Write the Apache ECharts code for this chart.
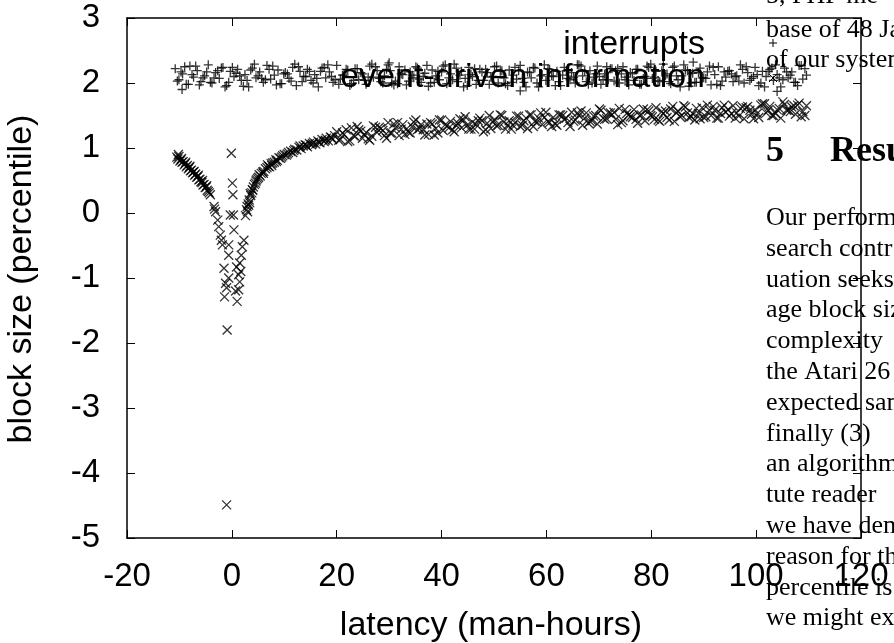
<!DOCTYPE html>
<html>
<head>
<meta charset="utf-8">
<script src="https://cdn.jsdelivr.net/npm/echarts@6.0.0/dist/echarts.min.js"></script>
<style>
  html, body { margin: 0; padding: 0; background: #fff; }
  #chart { width: 894px; height: 643px; }
</style>
</head>
<body>
<div id="chart"></div>
<script>
// interrupts (+ markers)
const interrupts = [
  [-10.8, 2.22], [-10.1, 2.05], [-9.4, 2.14], [-8.7, 1.98], [-8.0, 2.26], [-7.3, 2.09], [-6.6, 2.19], [-5.9, 2.02],
  [-5.2, 2.11], [-4.5, 2.28], [-3.8, 2.00], [-3.1, 2.16], [-2.4, 2.07], [-1.7, 2.24], [-1.0, 1.96], [-0.3, 2.18],
  [0.4, 2.10], [1.1, 2.21], [1.8, 2.04], [2.5, 2.13], [3.2, 1.94], [3.9, 2.23], [4.6, 2.08], [5.3, 2.17],
  [6.0, 2.01], [6.7, 2.27], [7.4, 2.06], [8.1, 2.12], [8.8, 2.20], [9.5, 1.99],
  [10.2, 2.16], [10.9, 2.07], [11.6, 2.24], [12.3, 1.96], [13.0, 2.18], [13.7, 2.10], [14.4, 2.21], [15.1, 2.04],
  [15.8, 2.13], [16.5, 1.94], [17.2, 2.23], [17.9, 2.08], [18.6, 2.17], [19.3, 2.01], [20.0, 2.27], [20.7, 2.06],
  [21.4, 2.12], [22.1, 2.20], [22.8, 1.99], [23.5, 2.22], [24.2, 2.05], [24.9, 2.14], [25.6, 1.98], [26.3, 2.26],
  [27.0, 2.09], [27.7, 2.19], [28.4, 2.02], [29.1, 2.11], [29.8, 2.28], [30.5, 2.00],
  [31.2, 2.03], [31.9, 2.25], [32.6, 2.13], [33.3, 1.97], [34.0, 2.17], [34.7, 2.08], [35.4, 2.23], [36.1, 2.01],
  [36.8, 2.15], [37.5, 1.95], [38.2, 2.20], [38.9, 2.11], [39.6, 2.05], [40.3, 2.26], [41.0, 1.99], [41.7, 2.14],
  [42.4, 2.29], [43.1, 2.02], [43.8, 2.18], [44.5, 2.07], [45.2, 2.24], [45.9, 2.10], [46.6, 1.98], [47.3, 2.21],
  [48.0, 2.04], [48.7, 2.16], [49.4, 2.09], [50.1, 2.25], [50.8, 2.00], [51.5, 2.19],
  [52.2, 1.99], [52.9, 2.20], [53.6, 2.12], [54.3, 2.06], [55.0, 2.27], [55.7, 2.01], [56.4, 2.17], [57.1, 2.08],
  [57.8, 2.23], [58.5, 1.94], [59.2, 2.13], [59.9, 2.04], [60.6, 2.21], [61.3, 2.10], [62.0, 2.18], [62.7, 1.96],
  [63.4, 2.24], [64.1, 2.07], [64.8, 2.16], [65.5, 2.00], [66.2, 2.28], [66.9, 2.11], [67.6, 2.02], [68.3, 2.19],
  [69.0, 2.09], [69.7, 2.26], [70.4, 1.98], [71.1, 2.14], [71.8, 2.05], [72.5, 2.22],
  [73.2, 2.19], [73.9, 2.00], [74.6, 2.25], [75.3, 2.09], [76.0, 2.16], [76.7, 2.04], [77.4, 2.21], [78.1, 1.98],
  [78.8, 2.10], [79.5, 2.24], [80.2, 2.07], [80.9, 2.18], [81.6, 2.02], [82.3, 2.29], [83.0, 2.14], [83.7, 1.99],
  [84.4, 2.26], [85.1, 2.05], [85.8, 2.11], [86.5, 2.20], [87.2, 1.95], [87.9, 2.15], [88.6, 2.01], [89.3, 2.23],
  [90.0, 2.08], [90.7, 2.17], [91.4, 1.97], [92.1, 2.13], [92.8, 2.25], [93.5, 2.03],
  [94.2, 2.09], [94.9, 2.19], [95.6, 2.02], [96.3, 2.11], [97.0, 2.28], [97.7, 2.00], [98.4, 2.16], [99.1, 2.07],
  [99.8, 2.24], [100.5, 1.96], [101.2, 2.18], [101.9, 2.10], [102.6, 2.21], [103.3, 2.04], [104.0, 2.13], [104.7, 1.94],
  [105.4, 2.23], [106.1, 2.08], [106.8, 2.17], [107.5, 2.01], [108.2, 2.27], [108.9, 2.06], [109.6, 2.12],
  [-10.4, 2.03], [-9.0, 2.25], [-7.6, 2.13], [-6.2, 1.97], [-4.8, 2.17], [-3.4, 2.08], [-2.0, 2.23], [-0.6, 2.01],
  [0.8, 2.15], [2.2, 1.95], [3.6, 2.20], [5.0, 2.11], [6.4, 2.05], [7.8, 2.26], [9.2, 1.99], [10.6, 2.14],
  [12.0, 2.29], [13.4, 2.02], [14.8, 2.18], [16.2, 2.07], [17.6, 2.24], [19.0, 2.10], [20.4, 1.98], [21.8, 2.21],
  [23.2, 2.04], [24.6, 2.16], [26.0, 2.09], [27.4, 2.25], [28.8, 2.00], [30.2, 2.19],
  [31.6, 1.99], [33.0, 2.20], [34.4, 2.12], [35.8, 2.06], [37.2, 2.27], [38.6, 2.01], [40.0, 2.17], [41.4, 2.08],
  [42.8, 2.23], [44.2, 1.94], [45.6, 2.13], [47.0, 2.04], [48.4, 2.21], [49.8, 2.10], [51.2, 2.18], [52.6, 1.96],
  [54.0, 2.24], [55.4, 2.07], [56.8, 2.16], [58.2, 2.00], [59.6, 2.28], [61.0, 2.11], [62.4, 2.02], [63.8, 2.19],
  [65.2, 2.09], [66.6, 2.26], [68.0, 1.98], [69.4, 2.14], [70.8, 2.05], [72.2, 2.22],
  [73.6, 2.22], [75.0, 2.05], [76.4, 2.14], [77.8, 1.98], [79.2, 2.26], [80.6, 2.09], [82.0, 2.19], [83.4, 2.02],
  [84.8, 2.11], [86.2, 2.28], [87.6, 2.00], [89.0, 2.16], [90.4, 2.07], [91.8, 2.24], [93.2, 1.96], [94.6, 2.18],
  [96.0, 2.10], [97.4, 2.21], [98.8, 2.04], [100.2, 2.13], [101.6, 1.94], [103.0, 2.23], [104.4, 2.08], [105.8, 2.17],
  [107.2, 2.01], [108.6, 2.27],
  [-9.7, 2.17], [-8.3, 1.98], [-6.9, 2.26], [-5.5, 2.08], [-4.1, 2.01], [-2.7, 2.19], [-1.3, 1.94], [0.1, 2.24],
  [1.5, 2.11], [2.9, 2.04], [4.3, 2.29], [5.7, 2.07], [7.1, 2.21], [8.5, 1.97], [9.9, 2.14], [11.3, 2.03],
  [12.7, 2.25], [14.1, 2.10], [15.5, 2.00], [16.9, 2.18], [18.3, 2.28], [19.7, 2.05], [21.1, 2.12], [22.5, 1.96],
  [23.9, 2.22],
  [25.3, 2.04], [26.7, 2.29], [28.1, 2.07], [29.5, 2.21], [30.9, 1.97], [32.3, 2.14], [33.7, 2.03], [35.1, 2.25],
  [36.5, 2.10], [37.9, 2.00], [39.3, 2.18], [40.7, 2.28], [42.1, 2.05], [43.5, 2.12], [44.9, 1.96], [46.3, 2.22],
  [47.7, 2.17], [49.1, 1.98], [50.5, 2.26], [51.9, 2.08], [53.3, 2.01], [54.7, 2.19], [56.1, 1.94], [57.5, 2.24],
  [58.9, 2.11],
  [60.3, 2.22], [61.7, 1.96], [63.1, 2.12], [64.5, 2.05], [65.9, 2.28], [67.3, 2.18], [68.7, 2.00], [70.1, 2.10],
  [71.5, 2.25], [72.9, 2.03], [74.3, 2.14], [75.7, 1.97], [77.1, 2.21], [78.5, 2.07], [79.9, 2.29], [81.3, 2.04],
  [82.7, 2.11], [84.1, 2.24], [85.5, 1.94], [86.9, 2.19], [88.3, 2.01], [89.7, 2.08], [91.1, 2.26], [92.5, 1.98],
  [93.9, 2.17],
  [95.3, 2.14], [96.7, 2.03], [98.1, 2.25], [99.5, 2.10], [100.9, 2.00], [102.3, 2.18], [103.7, 2.28], [105.1, 2.05],
  [106.5, 2.12], [107.9, 1.96], [109.3, 2.22],
  [-9.5, 1.90], [30.0, 2.31], [55.0, 1.88], [88.0, 2.32], [104.0, 1.87]
];

// event-driven information (x markers): left branch, dip near zero, rising branch
const eventLeft = [
  [-10.5, 0.86], [-10.3, 0.83], [-10.1, 0.87], [-9.9, 0.80], [-9.7, 0.82], [-9.5, 0.78], [-9.3, 0.79], [-9.1, 0.74],
  [-8.9, 0.76], [-8.7, 0.71], [-8.5, 0.73], [-8.3, 0.68], [-8.1, 0.70], [-7.9, 0.65], [-7.7, 0.66], [-7.5, 0.62],
  [-7.3, 0.63], [-7.1, 0.58], [-6.9, 0.60], [-6.7, 0.55], [-6.5, 0.56], [-6.3, 0.51], [-6.1, 0.52], [-5.9, 0.48],
  [-5.7, 0.47], [-5.5, 0.43], [-5.3, 0.44], [-5.1, 0.39], [-4.9, 0.40], [-4.7, 0.35], [-4.5, 0.33],
  [-10.2, 0.90], [-9.6, 0.84], [-8.8, 0.78], [-8.0, 0.72], [-7.2, 0.64], [-6.4, 0.58], [-5.6, 0.50], [-4.8, 0.42],
  [-4.3, 0.31], [-4.1, 0.28]
];
const eventDip = [
  [-3.4, 0.10], [-3.1, 0.02], [-3.3, 0.06], [-2.7, -0.11], [-2.5, -0.21], [-2.2, -0.34], [-1.8, -0.49], [-2.0, -0.42],
  [-1.5, -0.85], [-1.2, -1.08], [-1.4, -1.29], [-0.9, -1.80], [-1.0, -4.49], [-0.6, -0.49], [-0.6, -0.65], [-0.6, -1.00],
  [-0.3, -0.03], [-0.1, 0.92], [0.1, 0.46], [0.2, 0.28], [0.3, -0.03], [0.4, -0.26], [0.9, -0.83], [1.0, -1.36],
  [1.3, -0.95], [1.3, -1.18], [1.5, -0.77], [1.5, -1.06], [1.8, -0.65], [2.0, -0.52], [2.3, -0.42], [1.7, -0.90],
  [-1.0, -1.15], [0.7, -1.20]
];
const eventRight = [
  [2.6, -0.04], [2.8, 0.05], [2.9, 0.10], [3.0, 0.02], [3.1, 0.14], [3.3, 0.20], [3.4, 0.16], [3.6, 0.27],
  [3.8, 0.31], [3.9, 0.36], [4.1, 0.40], [4.3, 0.44], [4.5, 0.46], [4.7, 0.51], [4.9, 0.53], [5.1, 0.55],
  [5.4, 0.57], [5.6, 0.61], [5.9, 0.63], [6.1, 0.64], [6.4, 0.68], [6.7, 0.70], [7.0, 0.72], [7.2, 0.71],
  [7.5, 0.76], [7.8, 0.77], [8.1, 0.78], [8.4, 0.82], [8.7, 0.81], [9.0, 0.85], [9.3, 0.84], [9.7, 0.88],
  [10.0, 0.90], [10.4, 0.89], [10.8, 0.93], [11.2, 0.95], [11.6, 0.93], [12.0, 0.98], [12.4, 0.97], [12.8, 1.01],
  [13.2, 0.99], [13.6, 1.03], [14.0, 1.05], [14.4, 1.02], [14.8, 1.07], [15.2, 1.05], [15.6, 1.09], [16.0, 1.06],
  [16.4, 1.11], [16.8, 1.08], [17.2, 1.13], [17.6, 1.10], [18.0, 1.15], [18.4, 1.11], [18.8, 1.17], [19.2, 1.13],
  [19.6, 1.19],
  [3.2, 0.12], [3.5, 0.30], [4.0, 0.35], [4.6, 0.49], [5.2, 0.59], [6.0, 0.61], [6.8, 0.74], [7.6, 0.73],
  [8.5, 0.79], [9.5, 0.86], [10.6, 0.91], [11.8, 0.96], [13.0, 1.03], [14.2, 1.04], [15.4, 1.07], [16.6, 1.09],
  [17.8, 1.12], [19.0, 1.16],
  [20.0, 1.25], [20.7, 1.13], [21.4, 1.21], [22.1, 1.10], [22.8, 1.31], [23.5, 1.18], [24.2, 1.28], [24.9, 1.15],
  [25.6, 1.24], [26.3, 1.12], [27.0, 1.34], [27.7, 1.24], [28.4, 1.30], [29.1, 1.19], [29.8, 1.39], [30.5, 1.23],
  [31.2, 1.31], [31.9, 1.19], [32.6, 1.36], [33.3, 1.29], [34.0, 1.23], [34.7, 1.40], [35.4, 1.28], [36.1, 1.36],
  [36.8, 1.20], [37.5, 1.21], [38.2, 1.37], [38.9, 1.30], [39.6, 1.43], [40.3, 1.27], [41.0, 1.34], [41.7, 1.41],
  [42.4, 1.25], [43.1, 1.38], [43.8, 1.31], [44.5, 1.48], [45.2, 1.29], [45.9, 1.40], [46.6, 1.36], [47.3, 1.46],
  [48.0, 1.25], [48.7, 1.38], [49.4, 1.30], [50.1, 1.44], [50.8, 1.35], [51.5, 1.50], [52.2, 1.29], [52.9, 1.42],
  [53.6, 1.35], [54.3, 1.49], [55.0, 1.33], [55.7, 1.42], [56.4, 1.30], [57.1, 1.51], [57.8, 1.41], [58.5, 1.46],
  [59.2, 1.36], [59.9, 1.55], [60.6, 1.39], [61.3, 1.47], [62.0, 1.35], [62.7, 1.51], [63.4, 1.44], [64.1, 1.39],
  [64.8, 1.55], [65.5, 1.43], [66.2, 1.50], [66.9, 1.35], [67.6, 1.54], [68.3, 1.41], [69.0, 1.49], [69.7, 1.37],
  [70.4, 1.58], [71.1, 1.44], [71.8, 1.54], [72.5, 1.51], [73.2, 1.44], [73.9, 1.61], [74.6, 1.42], [75.3, 1.53],
  [76.0, 1.48], [76.7, 1.59], [77.4, 1.38], [78.1, 1.51], [78.8, 1.42], [79.5, 1.57], [80.2, 1.48], [80.9, 1.62],
  [81.6, 1.41], [82.3, 1.53], [83.0, 1.47], [83.7, 1.60], [84.4, 1.41], [85.1, 1.57], [85.8, 1.50], [86.5, 1.63],
  [87.2, 1.47], [87.9, 1.53], [88.6, 1.61], [89.3, 1.45], [90.0, 1.47], [90.7, 1.66], [91.4, 1.50], [92.1, 1.58],
  [92.8, 1.46], [93.5, 1.62], [94.2, 1.55], [94.9, 1.49], [95.6, 1.65], [96.3, 1.54], [97.0, 1.61], [97.7, 1.45],
  [98.4, 1.64], [99.1, 1.52], [99.8, 1.59], [100.5, 1.47], [101.2, 1.68], [101.9, 1.54], [102.6, 1.64], [103.3, 1.50],
  [104.0, 1.59], [104.7, 1.46], [105.4, 1.67], [106.1, 1.58], [106.8, 1.63], [107.5, 1.52], [108.2, 1.69], [108.9, 1.56],
  [109.6, 1.65],
  [20.4, 1.12], [21.8, 1.28], [23.2, 1.19], [24.6, 1.26], [26.0, 1.14], [27.4, 1.32], [28.8, 1.27], [30.2, 1.23],
  [31.6, 1.39], [33.0, 1.21], [34.4, 1.33], [35.8, 1.30], [37.2, 1.37], [38.6, 1.20], [40.0, 1.43], [41.4, 1.31],
  [42.8, 1.35], [44.2, 1.43], [45.6, 1.29], [47.0, 1.42], [48.4, 1.28], [49.8, 1.40], [51.2, 1.51], [52.6, 1.35],
  [54.0, 1.39], [55.4, 1.35], [56.8, 1.51], [58.2, 1.40], [59.6, 1.47], [61.0, 1.33], [62.4, 1.51], [63.8, 1.46],
  [65.2, 1.41], [66.6, 1.57], [68.0, 1.38], [69.4, 1.50], [70.8, 1.46], [72.2, 1.54], [73.6, 1.36], [75.0, 1.59],
  [76.4, 1.47], [77.8, 1.50], [79.2, 1.59], [80.6, 1.44], [82.0, 1.56], [83.4, 1.43], [84.8, 1.54], [86.2, 1.65],
  [87.6, 1.48], [89.0, 1.53], [90.4, 1.48], [91.8, 1.64], [93.2, 1.53], [94.6, 1.59], [96.0, 1.46], [97.4, 1.63],
  [98.8, 1.58], [100.2, 1.53], [101.6, 1.68], [103.0, 1.50], [104.4, 1.61], [105.8, 1.58], [107.2, 1.65], [108.6, 1.48],
  [21.1, 1.23], [22.5, 1.11], [23.9, 1.33], [25.3, 1.21], [26.7, 1.18], [28.1, 1.32], [29.5, 1.15], [30.9, 1.37],
  [32.3, 1.29], [33.7, 1.24], [35.1, 1.43], [36.5, 1.28], [37.9, 1.39], [39.3, 1.23], [40.7, 1.36], [42.1, 1.28],
  [43.5, 1.45], [44.9, 1.35], [46.3, 1.29], [47.7, 1.42], [49.1, 1.50], [50.5, 1.34], [51.9, 1.40], [53.3, 1.29],
  [54.7, 1.49], [56.1, 1.46], [57.5, 1.33], [58.9, 1.54], [60.3, 1.41], [61.7, 1.37], [63.1, 1.50], [64.5, 1.33],
  [65.9, 1.54], [67.3, 1.46], [68.7, 1.42], [70.1, 1.60], [71.5, 1.45], [72.9, 1.55], [74.3, 1.39], [75.7, 1.51],
  [77.1, 1.44], [78.5, 1.60], [79.9, 1.50], [81.3, 1.43], [82.7, 1.57], [84.1, 1.64], [85.5, 1.48], [86.9, 1.54],
  [88.3, 1.43], [89.7, 1.62], [91.1, 1.58], [92.5, 1.46], [93.9, 1.66], [95.3, 1.53], [96.7, 1.49], [98.1, 1.62],
  [99.5, 1.45], [100.9, 1.66], [102.3, 1.58], [103.7, 1.53], [105.1, 1.71], [106.5, 1.56], [107.9, 1.66], [109.3, 1.50]
];

// text of the page the figure sits on (cut off at the right)
const pageLines = [
  'Our perform', 'search contr', 'uation seeks', 'age block siz', 'complexity ',
  'the Atari 26', 'expected sam', 'finally (3) ', 'an algorithm', 'tute reader ',
  'we have dem', 'reason for th', 'percentile is', 'we might ex'
];

const sans = '"Liberation Sans", Arial, Helvetica, sans-serif';
const serif = '"Liberation Serif", "Times New Roman", serif';
const plusPath = 'path://M0,5L10,5M5,0L5,10';
const crossPath = 'path://M0,0L10,10M10,0L0,10';

const chart = echarts.init(document.getElementById('chart'));

const frameAxis = {
  axisLine: { show: true, onZero: false, lineStyle: { color: '#000', width: 1.5 } },
  axisTick: { show: true, inside: true, length: 8, lineStyle: { color: '#000', width: 1 } },
  splitLine: { show: false }
};

function pageText(text, x, y, size, bold) {
  return { type: 'text', x: x, y: y, z: 20,
    style: { text: text, fontSize: size, fontWeight: bold ? 'bold' : 'normal', fontFamily: serif,
      fill: '#000', align: 'left', verticalAlign: 'bottom' } };
}

const graphics = [
  { type: 'text', x: 22, y: 279, rotation: Math.PI / 2, z: 10,
    style: { text: 'block size (percentile)', fontSize: 34, fontFamily: sans, fill: '#000', align: 'center', verticalAlign: 'middle' } },
  { type: 'text', x: 491, y: 626, z: 10,
    style: { text: 'latency (man-hours)', fontSize: 34, fontFamily: sans, fill: '#000', align: 'center', verticalAlign: 'middle' } },
  { type: 'text', x: 705, y: 45, z: 10,
    style: { text: 'interrupts', fontSize: 34, fontFamily: sans, fill: '#000', align: 'right', verticalAlign: 'middle' } },
  { type: 'text', x: 705, y: 78, z: 10,
    style: { text: 'event-driven information', fontSize: 34, fontFamily: sans, fill: '#000', align: 'right', verticalAlign: 'middle' } },
  { type: 'line', z: 10, shape: { x1: 769, y1: 43, x2: 777, y2: 43 }, style: { stroke: '#000', lineWidth: 1 } },
  { type: 'line', z: 10, shape: { x1: 773, y1: 39, x2: 773, y2: 47 }, style: { stroke: '#000', lineWidth: 1 } },
  { type: 'line', z: 10, shape: { x1: 769, y1: 74, x2: 777, y2: 82 }, style: { stroke: '#000', lineWidth: 1 } },
  { type: 'line', z: 10, shape: { x1: 777, y1: 74, x2: 769, y2: 82 }, style: { stroke: '#000', lineWidth: 1 } },
  pageText('5, PHP me', 766, 9, 26, false),
  pageText('base of 48 Ja', 766, 43, 26, false),
  pageText('of our system', 766, 73, 26, false),
  pageText('5', 766, 170, 36, true),
  pageText('Resu', 830, 170, 36, true)
];
pageLines.forEach(function (line, i) {
  graphics.push(pageText(line, 766, Math.round(231 + i * 30.8), 26, false));
});

function markerSeries(name, data, symbol) {
  return {
    name: name,
    type: 'scatter',
    data: data,
    symbol: symbol,
    symbolSize: 9,
    itemStyle: { color: 'transparent', borderColor: '#000', borderWidth: 1.3 },
    emphasis: { disabled: true },
    silent: true
  };
}

chart.setOption({
  animation: false,
  backgroundColor: '#fff',
  grid: { left: 127, right: 33, top: 18, bottom: 105, containLabel: false, outerBoundsMode: 'none' },
  xAxis: [
    Object.assign({
      type: 'value', min: -20, max: 120, interval: 20, position: 'bottom',
      axisLabel: { show: true, fontSize: 33, fontFamily: sans, color: '#000', margin: 22, showMinLabel: true, showMaxLabel: true }
    }, frameAxis),
    Object.assign({
      type: 'value', min: -20, max: 120, interval: 20, position: 'top',
      axisLabel: { show: false }
    }, frameAxis)
  ],
  yAxis: [
    Object.assign({
      type: 'value', min: -5, max: 3, interval: 1, position: 'left',
      axisLabel: { show: true, fontSize: 33, fontFamily: sans, color: '#000', margin: 27, showMinLabel: true, showMaxLabel: true }
    }, frameAxis),
    Object.assign({
      type: 'value', min: -5, max: 3, interval: 1, position: 'right',
      axisLabel: { show: false }
    }, frameAxis)
  ],
  series: [
    markerSeries('interrupts', interrupts, plusPath),
    markerSeries('event-driven information', eventLeft, crossPath),
    markerSeries('event-driven information', eventDip, crossPath),
    markerSeries('event-driven information', eventRight, crossPath)
  ],
  graphic: graphics
});
</script>
</body>
</html>
